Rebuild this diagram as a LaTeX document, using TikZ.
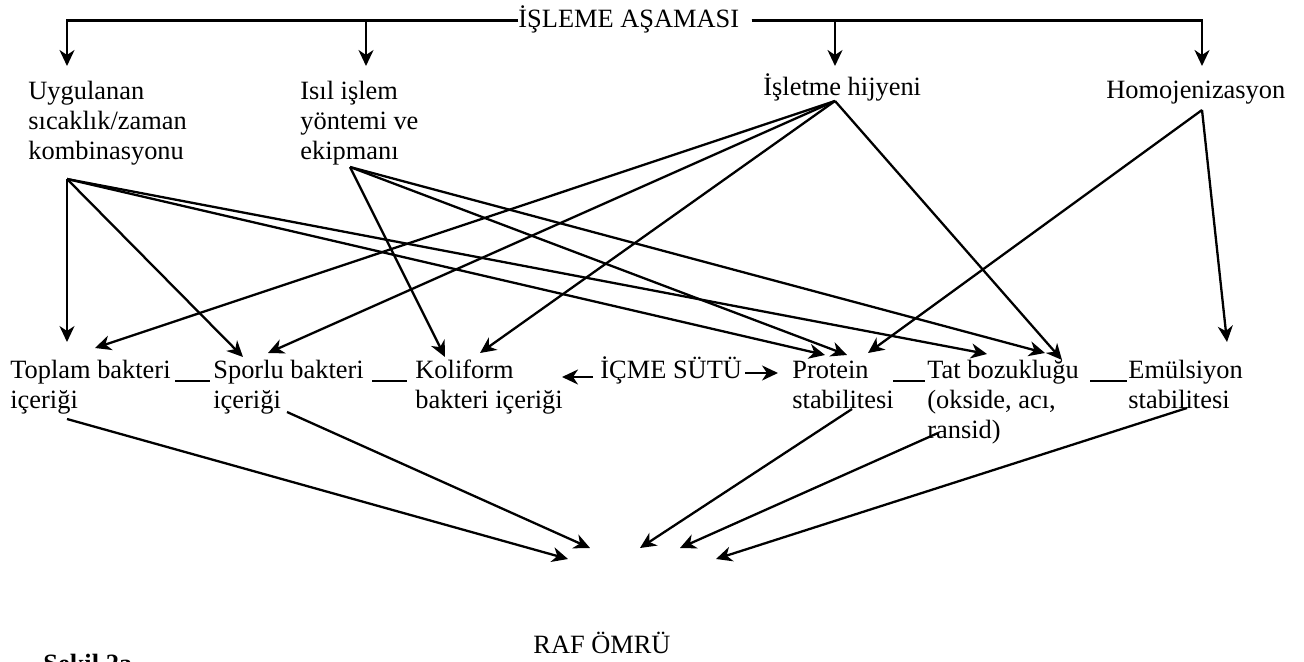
\documentclass[tikz,border=0pt]{standalone}
\usepackage{fontspec}
\setmainfont{Liberation Serif}
\usetikzlibrary{arrows.meta,calc}
% satirlar ilk satirin taban cizgisine gore hizalansin
\newcommand{\satir}[1]{\begin{tabular}[t]{@{}l@{}}#1\end{tabular}}

\begin{document}
\begin{tikzpicture}[x=0.5pt,y=-0.5pt,
  font=\fontsize{13.2}{15}\selectfont,
  lbl/.style={anchor=base west,inner sep=0pt},
  arr/.style={-{Stealth[length=8pt,width=7.5pt,inset=2.5pt]},line width=1.15pt},
  bar/.style={line width=1.15pt}]
\useasboundingbox (0,0) rectangle (1304,662);
% isleme asamasi ve dort etken
\node[lbl] (title) at (518,28) {İŞLEME AŞAMASI};
\node[lbl] (uyg) at (28,100) {\satir{Uygulanan\\sıcaklık/zaman\\kombinasyonu}};
\node[lbl] (isil) at (300,100) {\satir{Isıl işlem\\yöntemi ve\\ekipmanı}};
\node[lbl] (hij) at (763,96) {İşletme hijyeni};
\node[lbl] (hom) at (1106,99) {Homojenizasyon};
% sut ozellikleri
\node[lbl] (toplam) at (10,378) {\satir{Toplam bakteri\\içeriği}};
\node[lbl] (spor) at (213,378) {\satir{Sporlu bakteri\\içeriği}};
\node[lbl] (koli) at (415,378) {\satir{Koliform\\bakteri içeriği}};
\node[lbl] (icme) at (600,378) {İÇME SÜTÜ};
\node[lbl] (prot) at (792,378) {\satir{Protein\\stabilitesi}};
\node[lbl] (tat) at (927,378) {\satir{Tat bozukluğu\\(okside, acı,\\ransid)}};
\node[lbl] (emul) at (1128,378) {\satir{Emülsiyon\\stabilitesi}};
\node[lbl] (raf) at (533,653) {RAF ÖMRÜ};
\node[lbl,font=\fontsize{13.2}{15}\selectfont\bfseries] (sekil) at (43,672) {Şekil 2a};
% ust cizgi
\draw[arr] ($(title.base west)+(0,-7.5)$) -| ($(uyg.base west)+(39,-34)$);
\draw[arr] ($(title.base west)+(0,-7.5)$) -| ($(isil.base west)+(66,-34)$);
\draw[arr] ($(title.base east)+(12,-7.5)$) -| ($(hom.base west)+(96,-33)$);
\draw[arr] ($(title.base east)+(12,-7.5)$) -| ($(hij.base west)+(72,-30)$);
% etkiler
\draw[arr] ($(uyg.base west)+(39,79)$) -- ($(toplam.base west)+(57,-36)$);
\draw[arr] ($(uyg.base west)+(39,79)$) -- ($(spor.base west)+(30,-21)$);
\draw[arr] ($(uyg.base west)+(39,79)$) -- ($(prot.base west)+(33,-23)$);
\draw[arr] ($(uyg.base west)+(39,79)$) -- ($(tat.base west)+(60,-24)$);
\draw[arr] ($(isil.base west)+(50,67)$) -- ($(koli.base west)+(30,-21)$);
\draw[arr] ($(isil.base west)+(50,67)$) -- ($(prot.base west)+(55,-23)$);
\draw[arr] ($(isil.base west)+(50,67)$) -- ($(tat.base west)+(118,-25)$);
\draw[arr] ($(hij.base west)+(72,5)$) -- ($(toplam.base west)+(85,-30)$);
\draw[arr] ($(hij.base west)+(72,5)$) -- ($(spor.base west)+(55,-25)$);
\draw[arr] ($(hij.base west)+(72,5)$) -- ($(koli.base west)+(65,-25)$);
\draw[arr] ($(hij.base west)+(72,5)$) -- ($(tat.base west)+(135,-18)$);
\draw[arr] ($(hom.base west)+(96,11)$) -- ($(prot.base west)+(76,-25)$);
\draw[arr] ($(hom.base west)+(96,11)$) -- ($(emul.base west)+(99,-36)$);
% yan yana baglar
\draw[bar] ($(toplam.base west)+(165,3)$) -- ($(spor.base west)+(-3,3)$);
\draw[bar] ($(spor.base west)+(159,3)$) -- ($(koli.base west)+(-8,3)$);
\draw[bar] ($(prot.base west)+(101,3)$) -- ($(tat.base west)+(-2,3)$);
\draw[bar] ($(tat.base west)+(163,3)$) -- ($(emul.base west)+(-1,3)$);
\draw[arr] ($(icme.base west)+(-7,-1)$) -- ($(koli.base west)+(147,-1)$);
\draw[arr] ($(icme.base west)+(145,-5)$) -- ($(prot.base west)+(-14,-5)$);
% raf omru
\draw[arr] ($(toplam.base west)+(57,41)$) -- ($(raf.base west)+(35,-94)$);
\draw[arr] ($(spor.base west)+(74,34)$) -- ($(raf.base west)+(57,-105)$);
\draw[arr] ($(prot.base west)+(60,31)$) -- ($(raf.base west)+(107,-105)$);
\draw[arr] ($(tat.base west)+(11,55)$) -- ($(raf.base west)+(147,-105)$);
\draw[arr] ($(emul.base west)+(59,30)$) -- ($(raf.base west)+(183,-94)$);
\end{tikzpicture}
\end{document}
